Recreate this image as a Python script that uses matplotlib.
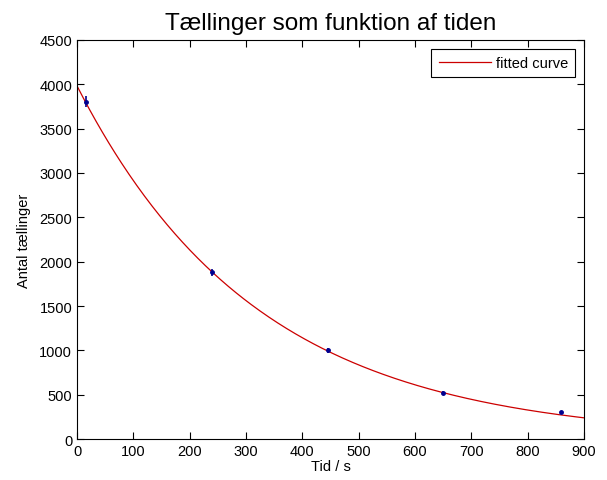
import numpy as np
import matplotlib.pyplot as plt

plt.rcParams['font.family'] = ['Liberation Sans', 'DejaVu Sans']

# measured counts
tid = [15, 240, 445, 650, 860]
taellinger = [3800, 1880, 1000, 515, 300]
fejl = [62, 43, 32, 23, 17]

# fitted exponential parameters
N0 = 3980
k = 0.00312

x_fit = np.linspace(0, 900, 400)
y_fit = N0 * np.exp(-k * x_fit)

fig = plt.figure(figsize=(6.07, 4.81), dpi=100)
ax = fig.add_axes([0.127, 0.085, 0.835, 0.83])

ax.errorbar(tid, taellinger, yerr=fejl, fmt='.', color='#000090', markersize=5,
            elinewidth=1.2, capsize=0)
ax.plot(x_fit, y_fit, '-', color='#cc0000', linewidth=0.9, label='fitted curve')

ax.set_xlim(0, 900)
ax.set_ylim(0, 4500)
ax.set_xticks(np.arange(0, 901, 100))
ax.set_yticks(np.arange(0, 4501, 500))
ax.tick_params(direction='in', top=True, right=True, labelsize=10.5, length=5)

ax.set_xlabel('Tid / s', fontsize=10.5, labelpad=1)
ax.set_ylabel('Antal tællinger', fontsize=10.5, labelpad=6)
ax.set_title('Tællinger som funktion af tiden', fontsize=17.5, pad=8)

leg = ax.legend(loc='upper right', fontsize=10.5, fancybox=False, edgecolor='black',
                framealpha=1, handlelength=3.6, handletextpad=0.3, borderaxespad=0.6,
                borderpad=0.5)
leg.get_frame().set_linewidth(0.8)

plt.savefig('out.png', dpi=100)
